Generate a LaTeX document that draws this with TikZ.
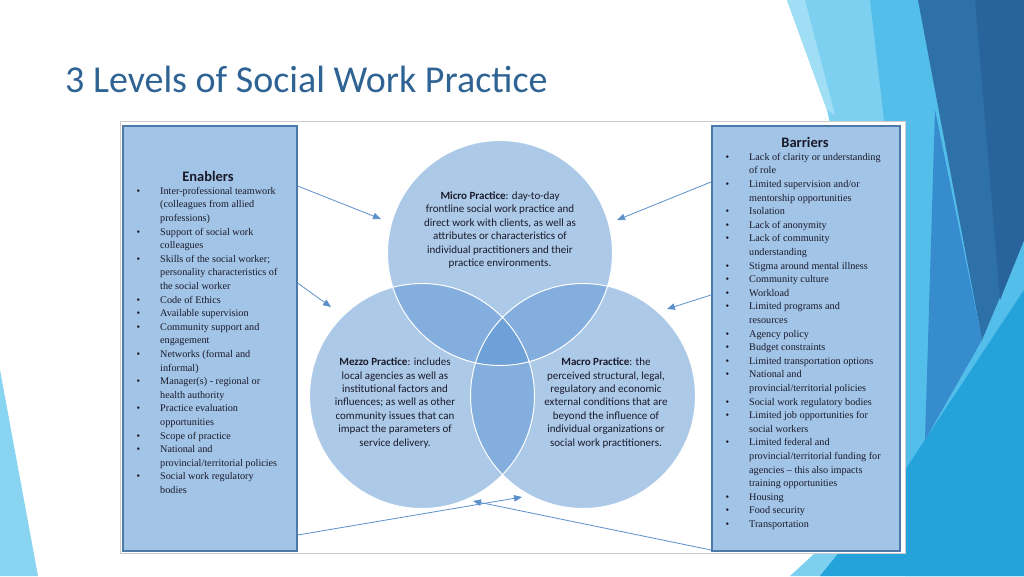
\documentclass[tikz,border=0pt]{standalone}
\usepackage{fontspec}
\setmainfont{Liberation Serif}
\newfontfamily\calfnt{Carlito}
\usepackage{enumitem}
\usetikzlibrary{arrows.meta}
\definecolor{titleblue}{HTML}{2F6393}
\definecolor{boxfill}{HTML}{A2C4E6}
\definecolor{boxline}{HTML}{4D79A9}
\definecolor{circ}{HTML}{5B95D3}
\definecolor{arr}{HTML}{5C90CA}
\definecolor{txt}{HTML}{1A1A2A}
\definecolor{d1}{RGB}{125,208,240}
\definecolor{d2}{RGB}{160,222,246}
\definecolor{d3}{RGB}{84,190,234}
\definecolor{d4}{RGB}{36,162,218}
\definecolor{d5}{RGB}{55,140,205}
\definecolor{d6}{RGB}{46,112,168}
\definecolor{d7}{RGB}{40,100,155}
\definecolor{d8}{RGB}{137,212,240}
\definecolor{framec}{RGB}{205,205,205}
\tikzset{
  listbox/.style={draw=boxline, line width=1.6pt, fill=boxfill, anchor=north west, inner sep=0pt},
  venn/.style={circle, minimum size=225pt, inner sep=0pt, fill=circ, fill opacity=0.5},
  vtext/.style={font=\calfnt\fontsize{11}{13.4}\selectfont, align=center, text=txt},
  link/.style={draw=arr, line width=0.8pt, -{Triangle[length=8pt,width=6.5pt]}},
  head/.style={font=\calfnt\bfseries\fontsize{14.5}{16}\selectfont, text=txt}
}
\newcommand{\lst}[2]{\parbox[t]{#1pt}{\fontsize{10.2}{13.6}\selectfont\color{txt}\raggedright
\begin{itemize}[leftmargin=30pt,labelsep=20pt,itemsep=0pt,topsep=0pt,parsep=0pt,partopsep=0pt,label=\textbullet]#2\end{itemize}}}
\begin{document}
\begin{tikzpicture}[x=1pt,y=-1pt]
\useasboundingbox (0,0) rectangle (1024,576);
\fill[white] (0,0) rectangle (1024,576);
% decoration
\fill[d1] (787,0) -- (1024,0) -- (1024,576) -- (790,576) -- (905,470) -- (827,110) -- cycle;
\fill[d2] (787,0) -- (805,0) -- (835,115) -- (827,110) -- cycle;
\fill[d3] (870,0) -- (1024,0) -- (1024,576) -- (905,576) -- (905,300) -- cycle;
\fill[d4] (905,470) -- (1024,290) -- (1024,576) -- (820,576) -- cycle;
\fill[d5] (935,110) -- (982,340) -- (925,440) -- cycle;
\fill[d6] (918,0) -- (1024,0) -- (1024,240) -- (982,340) -- cycle;
\fill[d7] (975,0) -- (1024,0) -- (1024,240) -- (1000,300) -- cycle;
\fill[d8] (0,370) -- (38,576) -- (0,576) -- cycle;
% title
\node[anchor=west, inner sep=0pt, text=titleblue, font=\calfnt\fontsize{38}{42}\selectfont] (title) at (65,79) {3 Levels of Social Work Practice};
% frame
\node[draw=framec, line width=0.6pt, fill=white, anchor=north west, minimum width=785pt, minimum height=432pt, inner sep=0pt] (frame) at (120,121) {};
% boxes
\node[listbox, minimum width=174pt, minimum height=425pt] (lb) at (122,125) {};
\node[listbox, minimum width=188pt, minimum height=425pt] (rb) at (711,125) {};
\node[head] (lh) at (208,176) {Enablers};
\node[head] (rh) at (805,142) {Barriers};
\node[anchor=north west, inner sep=0pt] (ll) at (130,187) {\lst{170}{%
\item Inter-professional teamwork\\(colleagues from allied\\professions)
\item Support of social work\\colleagues
\item Skills of the social worker;\\personality characteristics of\\the social worker
\item Code of Ethics
\item Available supervision
\item Community support and\\engagement
\item Networks (formal and\\informal)
\item Manager(s) - regional or\\health authority
\item Practice evaluation\\opportunities
\item Scope of practice
\item National and\\provincial/territorial policies
\item Social work regulatory\\bodies}};
\node[anchor=north west, inner sep=0pt] (rl) at (719,153) {\lst{200}{%
\item Lack of clarity or understanding\\of role
\item Limited supervision and/or\\mentorship opportunities
\item Isolation
\item Lack of anonymity
\item Lack of community\\understanding
\item Stigma around mental illness
\item Community culture
\item Workload
\item Limited programs and\\resources
\item Agency policy
\item Budget constraints
\item Limited transportation options
\item National and\\provincial/territorial policies
\item Social work regulatory bodies
\item Limited job opportunities for\\social workers
\item Limited federal and\\provincial/territorial funding for\\agencies -- this also impacts\\training opportunities
\item Housing
\item Food security
\item Transportation}};
% venn
\node[venn] (micro) at (500,253) {};
\node[venn] (mezzo) at (422,396) {};
\node[venn] (macro) at (583,396) {};
\draw[white, line width=1pt] (micro.center) circle (112.5pt) (mezzo.center) circle (112.5pt) (macro.center) circle (112.5pt);
\node[vtext] (mit) at (500,230) {\textbf{Micro Practice}: day-to-day\\frontline social work practice and\\direct work with clients, as well as\\attributes or characteristics of\\individual practitioners and their\\practice environments.};
\node[vtext] (mzt) at (395,403) {\textbf{Mezzo Practice}: includes\\local agencies as well as\\institutional factors and\\influences; as well as other\\community issues that can\\impact the parameters of\\service delivery.};
\node[vtext] (mat) at (606,403) {\textbf{Macro Practice}: the\\perceived structural, legal,\\regulatory and economic\\external conditions that are\\beyond the influence of\\individual organizations or\\social work practitioners.};
% arrows
\coordinate (a1) at (381,219);
\coordinate (a2) at (331,307);
\coordinate (a3) at (522,497);
\coordinate (a4) at (473,501);
\coordinate (a5) at (617,220);
\coordinate (a6) at (667,309);
\draw[link] (lb.north east |- 0,186) -- (a1);
\draw[link] (lb.north east |- 0,283) -- (a2);
\draw[link] (lb.north east |- 0,535) -- (a3);
\draw[link] (rb.north west |- 0,550) -- (a4);
\draw[link] (rb.north west |- 0,182) -- (a5);
\draw[link] (rb.north west |- 0,295) -- (a6);
\end{tikzpicture}
\end{document}
